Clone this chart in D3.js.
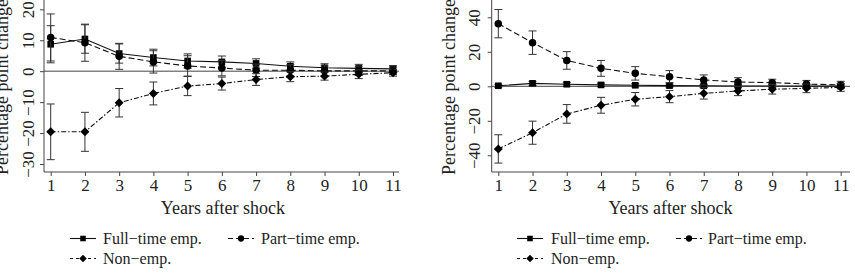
<!DOCTYPE html>
<html>
<head>
<meta charset="utf-8">
<script src="https://cdn.jsdelivr.net/npm/d3@7"></script>
<style>
  body { margin: 0; background: #fff; }
  svg { font-family: "Liberation Serif", "Times New Roman", serif; }
</style>
</head>
<body>
<div class="chart"></div>
<script>
// years after the shock
var years = [1, 2, 3, 4, 5, 6, 7, 8, 9, 10, 11];

// left panel: point estimates and CI half widths
var ftLeft = [8.7, 10.4, 5.7, 4.4, 3.3, 3.0, 2.5, 1.6, 1.1, 0.9, 0.75];
var ftLeftCi = [6.0, 4.6, 3.1, 2.7, 2.3, 1.9, 1.5, 1.4, 1.3, 1.3, 1.0];
var ptLeft = [10.9, 9.2, 4.8, 3.0, 1.7, 1.0, 0.3, 0.3, 0.1, 0.1, 0.1];
var ptLeftCi = [7.6, 6.0, 4.2, 3.6, 3.3, 2.5, 2.0, 1.8, 1.6, 1.5, 1.2];
var neLeft = [-19.6, -19.6, -10.2, -7.2, -4.8, -4.0, -2.7, -1.8, -1.6, -1.0, -0.5];
var neLeftCi = [9.0, 6.3, 4.6, 3.7, 3.1, 2.1, 1.9, 1.6, 1.3, 1.4, 1.1];

// right panel
var ftRight = [0.3, 1.7, 1.2, 0.8, 0.6, 0.4, 0.3, 0.2, 0.2, 0.1, 0.1];
var ftRightCi = [0.9, 1.2, 1.1, 1.0, 0.9, 0.9, 0.9, 0.8, 0.8, 0.8, 0.7];
var ptRight = [36.3, 25.3, 15.0, 10.4, 7.5, 5.6, 3.7, 2.5, 2.1, 1.3, 0.8];
var ptRightCi = [8.2, 6.8, 5.1, 4.6, 3.9, 3.5, 2.9, 2.5, 2.0, 2.1, 2.1];
var neRight = [-36.3, -26.9, -16.0, -11.0, -7.5, -6.0, -4.1, -2.7, -1.7, -1.2, -0.6];
var neRightCi = [8.2, 6.7, 5.4, 4.6, 3.9, 3.5, 3.3, 2.7, 2.8, 2.5, 2.3];

var leftTicks = [-30, -20, -10, 0, 10, 20];
var rightTicks = [-40, -20, 0, 20, 40];
var seriesNames = ['Full\u2212time emp.', 'Part\u2212time emp.', 'Non\u2212emp.'];

var width = 855, height = 274;
var svg = d3.select('.chart').append('svg').attr('width', width).attr('height', height);

// diamond = square turned 45 degrees
var styles = [
	{ dash: null, marker: d3.symbolSquare, size: 44, rot: 0 },
	{ dash: '6,3', marker: d3.symbolCircle, size: 44, rot: 0 },
	{ dash: '5,2,1.5,2', marker: d3.symbolSquare, size: 40, rot: 45 }
];

function drawPanel(cfg) {
	var g = svg.append('g');
	var x = d3.scaleLinear().domain([1, 11]).range(cfg.xRange);
	var y = d3.scaleLinear().domain(cfg.yDomain).range(cfg.yRange);

	// zero line
	g.append('line')
		.attr('x1', cfg.left).attr('x2', cfg.right)
		.attr('y1', y(0)).attr('y2', y(0))
		.attr('stroke', '#444').attr('stroke-width', 1);

	// axes
	var yAxis = g.append('g').attr('transform', 'translate(' + cfg.left + ',0)')
		.call(d3.axisLeft(y).tickValues(cfg.ticks).tickSize(4).tickSizeOuter(0).tickFormat(d3.format('d')));
	yAxis.select('.domain').remove();
	yAxis.selectAll('text')
		.attr('transform', 'rotate(-90)')
		.attr('x', 0).attr('y', cfg.labelOff).attr('dy', 0)
		.attr('text-anchor', 'middle')
		.style('font-family', '"Liberation Serif", serif')
		.style('font-size', '17px').attr('fill', '#222');
	g.append('line').attr('x1', cfg.left).attr('x2', cfg.left).attr('y1', 0).attr('y2', 172)
		.attr('stroke', '#444');

	var xAxis = g.append('g').attr('transform', 'translate(0,172)')
		.call(d3.axisBottom(x).tickValues(years).tickSize(4).tickSizeOuter(0).tickFormat(d3.format('d')));
	xAxis.select('.domain').remove();
	xAxis.selectAll('text').attr('y', 19).attr('dy', 0)
		.style('font-family', '"Liberation Serif", serif')
		.style('font-size', '17px').attr('fill', '#222');
	g.append('line').attr('x1', cfg.left).attr('x2', cfg.right).attr('y1', 172).attr('y2', 172)
		.attr('stroke', '#444');
	g.selectAll('.tick line').attr('stroke', '#444');

	// titles
	g.append('text')
		.attr('transform', 'translate(' + cfg.titleX + ',87) rotate(-90)')
		.attr('text-anchor', 'middle').style('font-size', '18px').attr('fill', '#222')
		.text('Percentage point change');
	g.append('text')
		.attr('x', (cfg.xRange[0] + cfg.xRange[1]) / 2 + 1).attr('y', 214)
		.attr('text-anchor', 'middle').style('font-size', '18px').attr('fill', '#222')
		.text('Years after shock');

	// series
	cfg.series.forEach(function(s, i) {
		var st = styles[i];
		var pts = years.map(function(yr, j) { return { x: yr, v: s.values[j], ci: s.ci[j] }; });
		var line = d3.line().x(function(d) { return x(d.x); }).y(function(d) { return y(d.v); });

		var eb = g.append('g').attr('stroke', '#333').attr('stroke-width', 1);
		eb.selectAll('.bar').data(pts).enter().append('line')
			.attr('x1', function(d) { return x(d.x); }).attr('x2', function(d) { return x(d.x); })
			.attr('y1', function(d) { return y(d.v + d.ci); }).attr('y2', function(d) { return y(d.v - d.ci); });
		eb.selectAll('.capTop').data(pts).enter().append('line')
			.attr('x1', function(d) { return x(d.x) - 4; }).attr('x2', function(d) { return x(d.x) + 4; })
			.attr('y1', function(d) { return y(d.v + d.ci); }).attr('y2', function(d) { return y(d.v + d.ci); });
		eb.selectAll('.capBot').data(pts).enter().append('line')
			.attr('x1', function(d) { return x(d.x) - 4; }).attr('x2', function(d) { return x(d.x) + 4; })
			.attr('y1', function(d) { return y(d.v - d.ci); }).attr('y2', function(d) { return y(d.v - d.ci); });

		g.append('path').datum(pts).attr('d', line)
			.attr('fill', 'none').attr('stroke', '#111').attr('stroke-width', 1.1)
			.attr('stroke-dasharray', st.dash);

		g.selectAll('.m' + i).data(pts).enter().append('path')
			.attr('d', d3.symbol().type(st.marker).size(st.size))
			.attr('transform', function(d) { return 'translate(' + x(d.x) + ',' + y(d.v) + ') rotate(' + st.rot + ')'; })
			.attr('fill', '#000');
	});

	// legend
	var leg = g.append('g');
	cfg.legend.forEach(function(l, i) {
		var st = styles[i];
		leg.append('line').attr('x1', l.sx).attr('x2', l.sx + 26).attr('y1', l.y).attr('y2', l.y)
			.attr('stroke', '#111').attr('stroke-width', 1.1)
			.attr('stroke-dasharray', st.dash ? (i === 1 ? '5,3' : '3,3') : null);
		leg.append('path').attr('d', d3.symbol().type(st.marker).size(st.size * 0.7))
			.attr('transform', 'translate(' + (l.sx + 13) + ',' + l.y + ') rotate(' + st.rot + ')')
			.attr('fill', '#000');
		leg.append('text').attr('x', l.tx).attr('y', l.y + 5.5)
			.style('font-size', '16px').attr('fill', '#222').text(seriesNames[i]);
	});
}

drawPanel({
	left: 44, right: 399, xRange: [50.7, 393],
	yDomain: [-30, 20], yRange: [164, 9.3], ticks: leftTicks,
	labelOff: -10.5, titleX: 8,
	series: [
		{ values: ftLeft, ci: ftLeftCi },
		{ values: ptLeft, ci: ptLeftCi },
		{ values: neLeft, ci: neLeftCi }
	],
	legend: [
		{ sx: 70, tx: 103, y: 238.5 },
		{ sx: 228, tx: 261, y: 238.5 },
		{ sx: 70, tx: 103, y: 258.5 }
	]
});

drawPanel({
	left: 491.7, right: 850, xRange: [498.3, 840.7],
	yDomain: [-40, 40], yRange: [155.3, 17.3], ticks: rightTicks,
	labelOff: -11.5, titleX: 455,
	series: [
		{ values: ftRight, ci: ftRightCi },
		{ values: ptRight, ci: ptRightCi },
		{ values: neRight, ci: neRightCi }
	],
	legend: [
		{ sx: 517, tx: 551, y: 238.5 },
		{ sx: 676, tx: 708, y: 238.5 },
		{ sx: 517, tx: 551, y: 258.5 }
	]
});
</script>
</body>
</html>
